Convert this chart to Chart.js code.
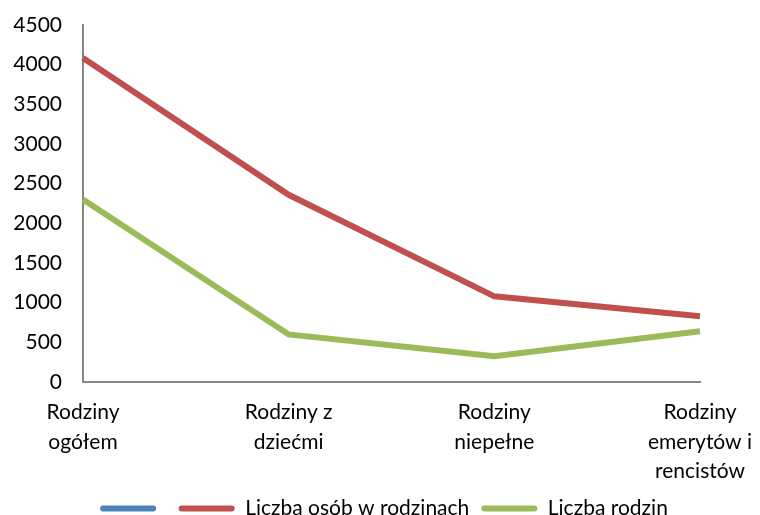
<!DOCTYPE html>
<html>
<head>
<meta charset="utf-8">
<script src="https://cdn.jsdelivr.net/npm/chart.js@4"></script>
<style>
    html, body { margin: 0; padding: 0; background: #fff; }
    #wrap { width: 760px; height: 515px; }
</style>
</head>
<body>
<div id="wrap"><canvas id="myChart_1"></canvas></div>
<script>
let categories = [
    ['Rodziny', 'ogółem'],
    ['Rodziny z', 'dziećmi'],
    ['Rodziny', 'niepełne'],
    ['Rodziny', 'emerytów i', 'rencistów']
];
let blank = [null, null, null, null];
let osoby = [4085, 2360, 1080, 830];
let rodziny = [2300, 600, 325, 640];

Chart.defaults.font.family = 'Lato, "Open Sans", sans-serif';
Chart.defaults.color = '#000';

let ct1 = document.getElementById('myChart_1').getContext('2d');

let myChart_1 = new Chart(ct1, {
    type: 'line',
    data: {
        labels: categories,
        datasets: [
            {
                label: '',
                data: blank,
                borderColor: '#4F81BD',
                backgroundColor: '#4F81BD'
            },
            {
                label: 'Liczba osób w rodzinach',
                data: osoby,
                borderColor: '#C0504D',
                backgroundColor: '#C0504D'
            },
            {
                label: 'Liczba rodzin',
                data: rodziny,
                borderColor: '#9BBB59',
                backgroundColor: '#9BBB59'
            }
        ]
    },
    options: {
        responsive: true,
        maintainAspectRatio: false,
        animation: false,
        layout: {
            padding: { left: 8, right: 0, top: 25, bottom: 0 }
        },
        elements: {
            line: { borderWidth: 6, tension: 0 },
            point: { radius: 0, hoverRadius: 0 }
        },
        scales: {
            x: {
                offset: false,
                grid: { display: false, drawTicks: false },
                border: { color: '#868686', width: 2 },
                ticks: {
                    maxRotation: 0,
                    autoSkip: false,
                    padding: 16,
                    font: { size: 21, lineHeight: 1.4 }
                },
                afterFit: (s) => {
                    s.height = 104;
                    s.paddingLeft = 0;
                    s.paddingRight = 60;
                }
            },
            y: {
                min: 0,
                max: 4500,
                grid: { display: false, drawTicks: false },
                border: { color: '#868686', width: 2 },
                ticks: {
                    stepSize: 500,
                    padding: 21,
                    font: { size: 21 },
                    callback: (v) => String(v)
                },
                afterFit: (s) => {
                    s.width = 75;
                    s.paddingTop = 0;
                    s.paddingBottom = 0;
                }
            }
        },
        plugins: {
            legend: {
                position: 'bottom',
                maxHeight: 29,
                labels: {
                    boxWidth: 56,
                    boxHeight: 6,
                    padding: 12,
                    useBorderRadius: true,
                    borderRadius: 3,
                    font: { size: 21, lineHeight: 1 },
                    generateLabels: (chart) => {
                        let items = Chart.defaults.plugins.legend.labels.generateLabels(chart);
                        items.forEach(i => { i.lineWidth = 0; });
                        return items;
                    }
                }
            },
            tooltip: { enabled: false }
        }
    }
});
</script>
</body>
</html>
